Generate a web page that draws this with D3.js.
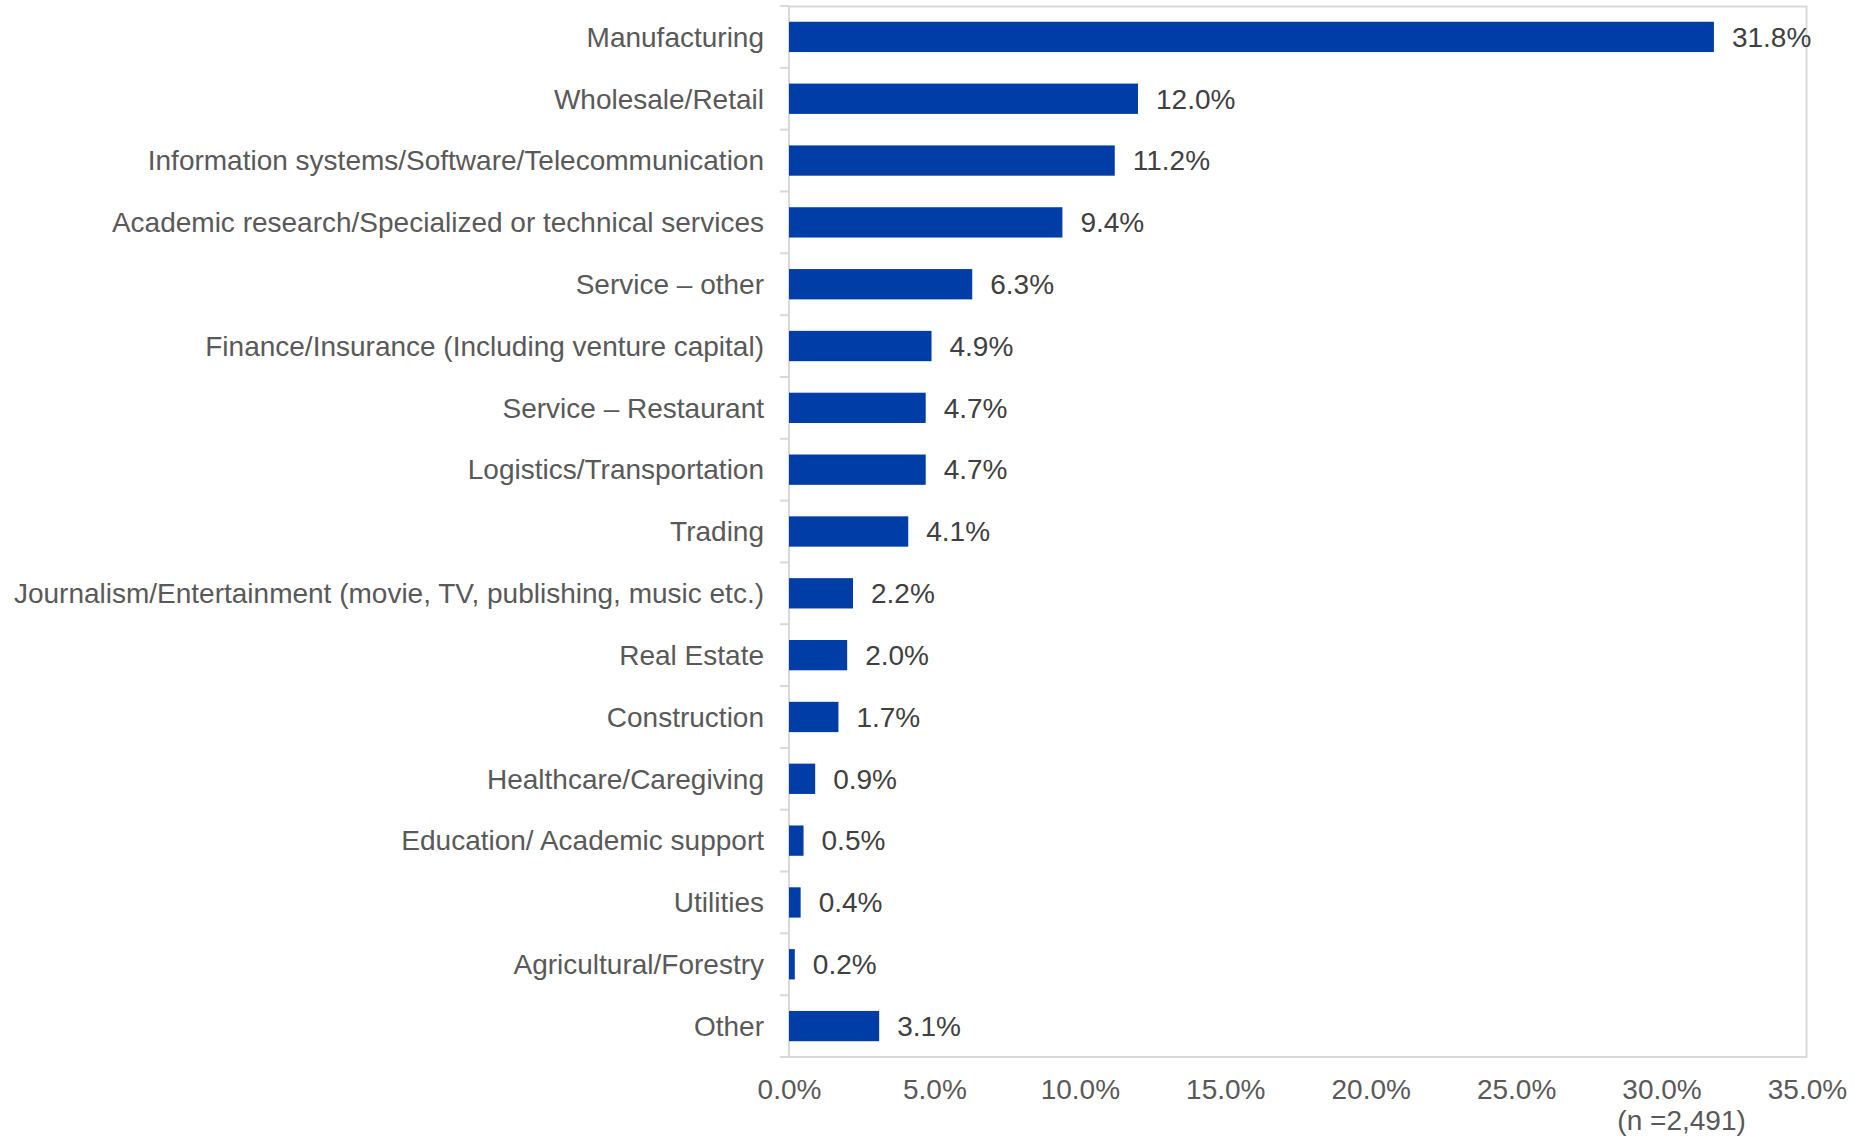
<!DOCTYPE html>
<html>
<head>
<meta charset="utf-8">
<script src="https://cdn.jsdelivr.net/npm/d3@7"></script>
<style>
  html, body { margin: 0; padding: 0; background: #ffffff; }
  svg { display: block; font-family: "Liberation Sans", Arial, sans-serif; }
</style>
</head>
<body>
<svg id="chart" width="1854" height="1136"></svg>
<script>
// Industry breakdown of respondents (share of total, %)
const categories = [
  "Manufacturing",
  "Wholesale/Retail",
  "Information systems/Software/Telecommunication",
  "Academic research/Specialized or technical services",
  "Service \u2013 other",
  "Finance/Insurance (Including venture capital)",
  "Service \u2013 Restaurant",
  "Logistics/Transportation",
  "Trading",
  "Journalism/Entertainment (movie, TV, publishing, music etc.)",
  "Real Estate",
  "Construction",
  "Healthcare/Caregiving",
  "Education/ Academic support",
  "Utilities",
  "Agricultural/Forestry",
  "Other"
];
const shares = [31.8, 12.0, 11.2, 9.4, 6.3, 4.9, 4.7, 4.7, 4.1, 2.2, 2.0, 1.7, 0.9, 0.5, 0.4, 0.2, 3.1];
const xTicks = [0, 5, 10, 15, 20, 25, 30, 35];
const sampleNote = "(n =2,491)";

const svg = d3.select("#chart");
const plot = { left: 789, right: 1807, top: 6, bottom: 1057 };
const fontSize = 28;

const x = d3.scaleLinear().domain([0, 35]).range([plot.left, plot.right]);
const y = d3.scaleBand().domain(categories).range([plot.top, plot.bottom]).paddingInner(0.51).paddingOuter(0.255);
const band = d3.scaleBand().domain(categories).range([plot.top, plot.bottom]);

const labelColor = "#595959";
const gridColor = "#d9d9d9";
const barColor = "#003da6";

// frame: top and right edges
svg.append("path")
  .attr("d", `M${plot.left},${plot.top + 0.5}H${plot.right - 0.5}V${plot.bottom}`)
  .attr("fill", "none").attr("stroke", gridColor).attr("stroke-width", 2);

// category axis (left) with ticks on band boundaries
const yAxis = svg.append("g");
yAxis.append("line")
  .attr("x1", plot.left).attr("x2", plot.left)
  .attr("y1", plot.top).attr("y2", plot.bottom)
  .attr("stroke", gridColor).attr("stroke-width", 2);
const boundaries = categories.map(c => band(c)).concat([plot.bottom]);
yAxis.selectAll("line.tick").data(boundaries).enter().append("line")
  .attr("class", "tick")
  .attr("x1", plot.left - 9).attr("x2", plot.left)
  .attr("y1", d => d).attr("y2", d => d)
  .attr("stroke", gridColor).attr("stroke-width", 2);
yAxis.selectAll("text").data(categories).enter().append("text")
  .attr("x", plot.left - 25)
  .attr("y", d => band(d) + band.bandwidth() / 2)
  .attr("dy", "0.35em")
  .attr("text-anchor", "end")
  .attr("fill", labelColor)
  .attr("font-size", fontSize)
  .text(d => d);

// value axis (bottom)
const xAxis = d3.axisBottom(x).tickValues(xTicks).tickSize(0).tickPadding(22)
  .tickFormat(d => d3.format(".1f")(d) + "%");
const gx = svg.append("g").attr("transform", `translate(0,${plot.bottom})`).call(xAxis);
gx.select(".domain").attr("stroke", gridColor).attr("stroke-width", 2)
  .attr("d", `M${plot.left - 9},0H${plot.right}`);
gx.selectAll("text").attr("fill", labelColor).attr("font-size", fontSize)
  .attr("font-family", "Liberation Sans, Arial, sans-serif");

svg.append("text")
  .attr("x", x(30) + 20).attr("y", 1130)
  .attr("text-anchor", "middle")
  .attr("fill", labelColor).attr("font-size", fontSize)
  .text(sampleNote);

// bars
svg.append("g").selectAll("rect").data(categories).enter().append("rect")
  .attr("x", x(0))
  .attr("y", d => y(d))
  .attr("width", (d, i) => x(shares[i]) - x(0))
  .attr("height", y.bandwidth())
  .attr("fill", barColor);

// value labels
svg.append("g").selectAll("text").data(categories).enter().append("text")
  .attr("x", (d, i) => x(shares[i]) + 18)
  .attr("y", d => y(d) + y.bandwidth() / 2)
  .attr("dy", "0.35em")
  .attr("fill", "#404040")
  .attr("font-size", fontSize)
  .text((d, i) => d3.format(".1f")(shares[i]) + "%");
</script>
</body>
</html>
